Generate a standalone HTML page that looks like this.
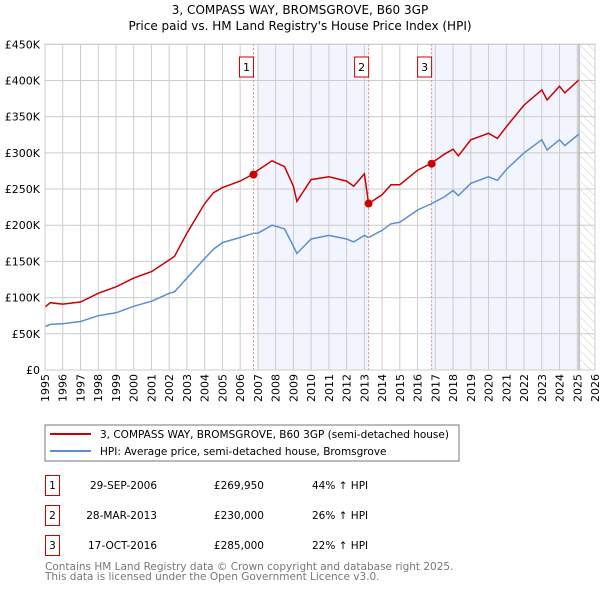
<!DOCTYPE html>
<html><head><meta charset="utf-8"><style>
body{margin:0;background:#fff;width:600px;height:590px;overflow:hidden;font-family:"DejaVu Sans","Liberation Sans",sans-serif}
svg text{font-family:"DejaVu Sans","Liberation Sans",sans-serif}
</style></head><body>
<svg id="c" width="600" height="590" xmlns="http://www.w3.org/2000/svg">
<defs><pattern id="hatch" width="6" height="6" patternUnits="userSpaceOnUse" patternTransform="rotate(-45)"><line x1="0" y1="0" x2="0" y2="6" stroke="#ccc" stroke-width="1"/></pattern></defs>
<text x="300" y="14" text-anchor="middle" font-size="12">3, COMPASS WAY, BROMSGROVE, B60 3GP</text>
<text x="300" y="30" text-anchor="middle" font-size="12">Price paid vs. HM Land Registry's House Price Index (HPI)</text>
<g id="bg"></g><g id="grid"></g><g id="lines"></g><g id="marks"></g><g id="axes"></g>
<rect x="45" y="425" width="414" height="36" fill="#fff" stroke="#777"/>
<line x1="50" y1="434" x2="91" y2="434" stroke="#cc0000" stroke-width="2"/>
<text x="100" y="438" font-size="10.5">3, COMPASS WAY, BROMSGROVE, B60 3GP (semi-detached house)</text>
<line x1="50" y1="451" x2="91" y2="451" stroke="#5b8fd1" stroke-width="2"/>
<text x="100" y="455" font-size="10.5">HPI: Average price, semi-detached house, Bromsgrove</text>
<g font-size="10.5">
<rect x="45.5" y="475.5" width="14" height="20" fill="none" stroke="#c00"/><text x="52.5" y="489" text-anchor="middle">1</text>
<text x="157" y="489" text-anchor="end">29-SEP-2006</text><text x="264" y="489" text-anchor="end">£269,950</text><text x="312" y="489">44% ↑ HPI</text>
<rect x="45.5" y="505.5" width="14" height="20" fill="none" stroke="#c00"/><text x="52.5" y="519" text-anchor="middle">2</text>
<text x="157" y="519" text-anchor="end">28-MAR-2013</text><text x="264" y="519" text-anchor="end">£230,000</text><text x="312" y="519">26% ↑ HPI</text>
<rect x="45.5" y="535.5" width="14" height="20" fill="none" stroke="#c00"/><text x="52.5" y="549" text-anchor="middle">3</text>
<text x="157" y="549" text-anchor="end">17-OCT-2016</text><text x="264" y="549" text-anchor="end">£285,000</text><text x="312" y="549">22% ↑ HPI</text>
</g>
<text x="45" y="570" font-size="10.5" fill="#777">Contains HM Land Registry data © Crown copyright and database right 2025.</text>
<text x="45" y="580" font-size="10.5" fill="#777">This data is licensed under the Open Government Licence v3.0.</text>
</svg>
<script>
const dates=[1995,1995.3,1996,1997,1998,1999,2000,2001,2002,2002.3,2003,2004,2004.5,2005,2006,2006.75,2007,2007.8,2008.5,2009,2009.2,2010,2011,2012,2012.4,2013,2013.24,2014,2014.5,2015,2016,2016.8,2017.5,2018,2018.3,2019,2020,2020.5,2021,2022,2023,2023.3,2024,2024.3,2025.1];
const hpiValues=[60,63,64,67,75,79,88,95,106,108,127,154,167,176,183,189,189,200,195,171,161,181,186,181,177,186,183,193,202,204,221,230,239,248,241,258,267,262,277,300,318,304,318,310,326];
const priceValues=[87,93,91,94,106,115,127,136,152,157,189,230,245,252,261,271,276,289,281,254,233,263,267,261,254,271,230,242,256,256,276,286,298,305,296,318,327,320,336,366,387,373,392,383,401];
const yTicks=[0,50,100,150,200,250,300,350,400,450];
const yTickLabels=["£0","£50K","£100K","£150K","£200K","£250K","£300K","£350K","£400K","£450K"];
const saleDates=[2006.75,2013.24,2016.79];
const salePrices=[269.95,230,285];
const saleLabels=["1","2","3"];
const X0=45,X1=595,Y0=370,Y1=44.3;
const x=t=>X0+(t-1995)/31*(X1-X0);
const y=v=>Y0-v/450*(Y0-Y1);
const NS="http://www.w3.org/2000/svg";
function mk(p,tag,at){const e=document.createElementNS(NS,tag);for(const k in at)e.setAttribute(k,at[k]);document.getElementById(p).appendChild(e);return e;}
let r=mk('bg','rect',{x:X0,y:Y1,width:X1-X0,height:Y0-Y1,fill:'#fff'});
r=mk('bg','rect',{x:x(2007),y:Y1,width:x(saleDates[1])-x(2007),height:Y0-Y1,fill:'#f2f5fd'});


r=mk('bg','rect',{x:x(saleDates[2]),y:Y1,width:x(2025.2)-x(saleDates[2]),height:Y0-Y1,fill:'#f2f5fd'});


r=mk('bg','rect',{x:x(2025.2),y:Y1,width:X1-x(2025.2),height:Y0-Y1,fill:'url(#hatch)'});


for(let yr=1995;yr<=2026;yr++){
 let l=mk('grid','line',{x1:x(yr),x2:x(yr),y1:Y1,y2:Y0,stroke:'#ccc','stroke-width':1});
 
 
 let t=mk('axes','text',{x:0,y:0,'font-size':11,'text-anchor':'end',transform:`translate(${x(yr)+4},374) rotate(-90)`});
 t.textContent=yr;
 
 
}
yTicks.forEach((v,i)=>{
 let l=mk('grid','line',{x1:X0,x2:X1,y1:y(v),y2:y(v),stroke:'#ccc','stroke-width':1});
 
 
 let t=mk('axes','text',{x:40,y:y(v)+4,'font-size':11,'text-anchor':'end'});
 t.textContent=yTickLabels[i];
 
 
});
let fr=mk('axes','rect',{x:X0,y:Y1,width:X1-X0,height:Y0-Y1,fill:'none',stroke:'#ccc'});


let nl=mk('axes','line',{x1:x(2025.1),x2:x(2025.1),y1:Y1,y2:Y0,stroke:'#999'});


const path=vals=>dates.map((d,i)=>(i?'L':'M')+x(d).toFixed(1)+','+y(vals[i]).toFixed(1)).join('');
let hp=mk('lines','path',{d:path(hpiValues),fill:'none',stroke:'#5b8fd1','stroke-width':1.5});


let pp=mk('lines','path',{d:path(priceValues),fill:'none',stroke:'#cc0000','stroke-width':1.5});


saleDates.forEach((d,i)=>{
 let l=mk('marks','line',{x1:x(d),x2:x(d),y1:Y1,y2:Y0,stroke:'#f08080','stroke-dasharray':'2,2'});
 
 
 let c=mk('marks','circle',{cx:x(d),cy:y(salePrices[i]),r:4,fill:'#cc0000'});
 
 
 let b=mk('marks','rect',{x:x(d)-14,y:57,width:14,height:20,fill:'#fff',stroke:'#c00'});
 
 
 let t=mk('marks','text',{x:x(d)-7,y:71,'font-size':11,'text-anchor':'middle'});
 t.textContent=saleLabels[i];
 
 
});
</script>
</body></html>
